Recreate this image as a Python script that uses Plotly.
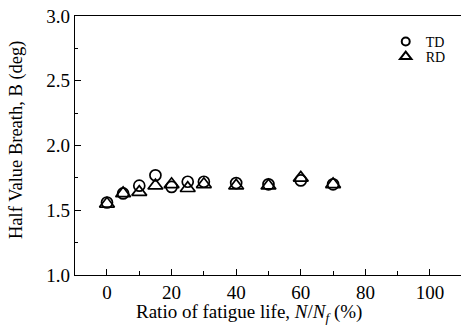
import plotly.graph_objects as go

ratio = [0, 5, 10, 15, 20, 25, 30, 40, 50, 60, 70]
td = [1.56, 1.63, 1.69, 1.77, 1.68, 1.72, 1.72, 1.71, 1.70, 1.73, 1.70]
rd = [1.55, 1.63, 1.64, 1.69, 1.70, 1.67, 1.70, 1.69, 1.69, 1.75, 1.70]
yticks = [1.0, 1.5, 2.0, 2.5, 3.0]
xticks = [0, 20, 40, 60, 80, 100]

FONT = "Liberation Serif, Times New Roman, serif"

fig = go.Figure()
fig.add_trace(go.Scatter(
    x=ratio, y=td, mode="markers", name="TD", showlegend=False,
    marker=dict(symbol="circle-open", size=11, color="black", line=dict(width=1.7, color="black")),
))
fig.add_trace(go.Scatter(
    x=ratio, y=rd, mode="markers", name="RD", showlegend=False,
    marker=dict(symbol="triangle-up-open", size=13, color="black", line=dict(width=1.7, color="black")),
))
# legend entries (smaller symbols, as in the reference key)
fig.add_trace(go.Scatter(
    x=[None], y=[None], mode="markers", name="TD", legend="legend", showlegend=True,
    marker=dict(symbol="circle-open", size=8, color="black", line=dict(width=2, color="black")),
))
fig.add_trace(go.Scatter(
    x=[None], y=[None], mode="markers", name="RD", legend="legend2", showlegend=True,
    marker=dict(symbol="triangle-up-open", size=10, color="black", line=dict(width=2, color="black")),
))

axis_common = dict(
    showgrid=False, zeroline=False, showline=True, linecolor="black", linewidth=1.2,
    ticks="inside", tickcolor="black", ticklen=6, tickwidth=1.2,
    tickfont=dict(family=FONT, size=19, color="black"),
)

fig.update_layout(
    width=461, height=334,
    margin=dict(l=75, r=0, t=16, b=59),
    paper_bgcolor="white", plot_bgcolor="white",
    font=dict(family=FONT, color="black"),
    showlegend=True,
    xaxis=dict(
        **axis_common, range=[-9.9, 109.6], tickvals=xticks, mirror=True,
        minor=dict(dtick=10, tick0=0, ticks="inside", ticklen=4, tickcolor="black", tickwidth=1.2),
    ),
    yaxis=dict(
        **axis_common, range=[1.0, 3.0], tickvals=yticks, ticktext=[f"{v:.1f}" for v in yticks],
        minor=dict(dtick=0.25, tick0=1.0, ticks="inside", ticklen=3, tickcolor="black", tickwidth=1.2),
    ),
    legend=dict(x=0.805, y=0.900, xanchor="left", yanchor="middle", bgcolor="rgba(0,0,0,0)",
                font=dict(family=FONT, size=14), itemwidth=30, visible=True),
    legend2=dict(x=0.805, y=0.842, xanchor="left", yanchor="middle", bgcolor="rgba(0,0,0,0)",
                 font=dict(family=FONT, size=14), itemwidth=30, visible=True),
    annotations=[
        dict(text="Ratio of fatigue life, <i>N</i>/<i>N</i><sub><i>f</i></sub> (%)",
             xref="paper", yref="paper", x=0.451, y=-0.147, xanchor="center", yanchor="middle",
             showarrow=False, font=dict(family=FONT, size=19, color="black")),
        dict(text="Half Value Breath, B (deg)", textangle=-90,
             xref="paper", yref="paper", x=-0.153, y=0.521, xanchor="center", yanchor="middle",
             showarrow=False, font=dict(family=FONT, size=18.5, color="black")),
    ],
)

fig.write_html("out.html")
